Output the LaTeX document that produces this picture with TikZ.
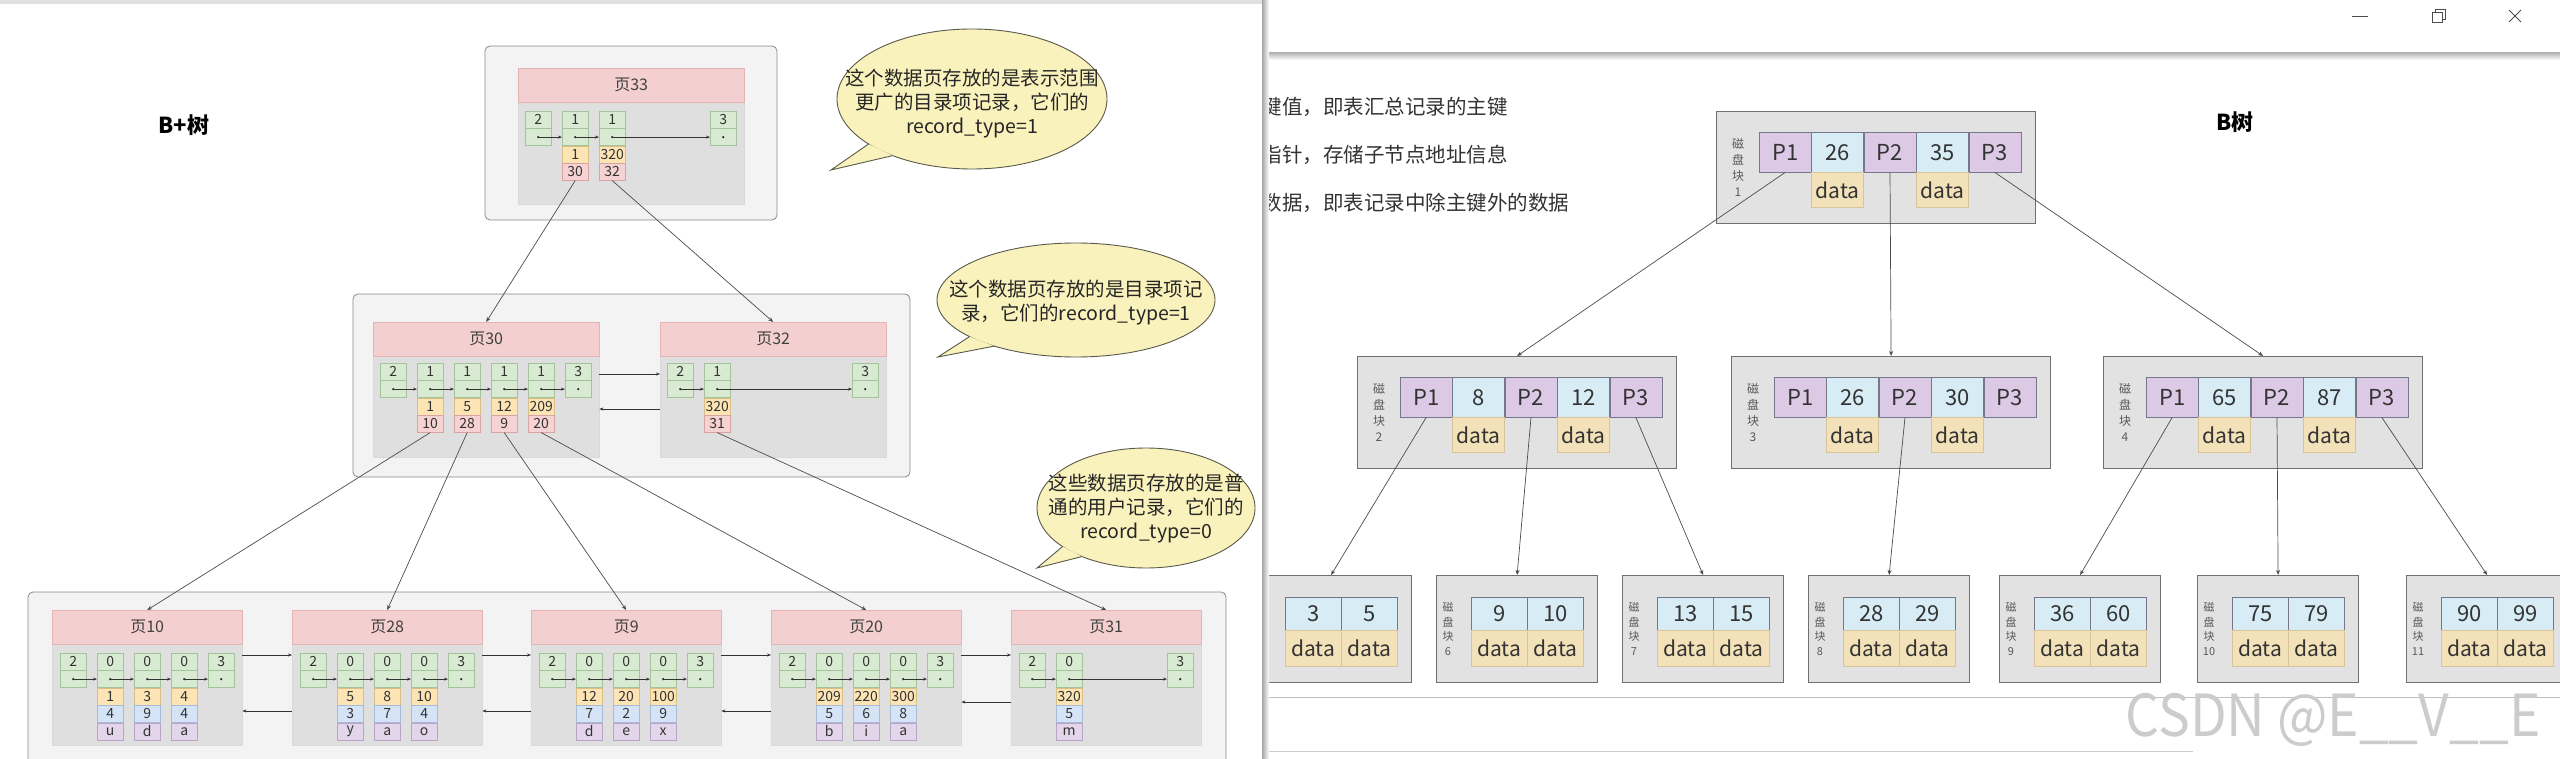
\documentclass[tikz,border=0pt]{standalone}
\usepackage{fontspec}
\setmainfont{Noto Sans CJK SC}
\usetikzlibrary{arrows.meta,calc}

\definecolor{grpfill}{HTML}{F3F3F3}
\definecolor{grpline}{HTML}{8A8A8A}
\definecolor{headfill}{HTML}{F4CFCF}
\definecolor{headline}{HTML}{E2B4B4}
\definecolor{bodyfill}{HTML}{DFDFDF}
\definecolor{grnfill}{HTML}{D9EAD3}
\definecolor{grnline}{HTML}{A3C49B}
\definecolor{keyfill}{HTML}{FCE4B4}
\definecolor{keyline}{HTML}{D9BE85}
\definecolor{numfill}{HTML}{F7D2D2}
\definecolor{numline}{HTML}{D7A3A3}
\definecolor{bluefill}{HTML}{D4E3F6}
\definecolor{blueline}{HTML}{A7BAD8}
\definecolor{purfill}{HTML}{E3D5EA}
\definecolor{purline}{HTML}{B9A3C6}
\definecolor{bubfill}{HTML}{FAF2BC}
\definecolor{bubline}{HTML}{5A5A4A}
\definecolor{blkfill}{HTML}{E2E2E2}
\definecolor{blkline}{HTML}{707070}
\definecolor{pfill}{HTML}{DCC9E6}
\definecolor{kfill}{HTML}{D7ECF4}
\definecolor{dfill}{HTML}{F3E2B9}
\definecolor{dline}{HTML}{D8C49A}
\definecolor{cellline}{HTML}{77778A}

% one record of a page: number cell and pointer cell
\newcommand{\recpair}[4]{%
  \node[grncell, anchor=north west] (#1-t) at (#2,#3) {#4};
  \node[grncell, anchor=north] (#1-p) at (#1-t.south) {};
  \fill[black!85] (#1-p.center) circle (1.2pt);
}

% speech bubble: cx, cy, rx, ry, tip x, tip y, name
\newcommand{\bubble}[7]{%
  \fill[bubfill, draw=bubline, line width=0.9pt] (#1,#2) ellipse [x radius=#3pt, y radius=#4pt];
  \coordinate (#7-a) at ($(#1,#2)+({#3*cos(140)},{#4*sin(140)})$);
  \coordinate (#7-b) at ($(#1,#2)+({#3*cos(126)},{#4*sin(126)})$);
  \coordinate (#7-tip) at (#5,#6);
  \fill[bubfill] (#7-a) -- (#7-tip) -- (#7-b) -- cycle;
  \draw[bubline, line width=0.9pt] (#7-a) -- (#7-tip) -- (#7-b);
}

% B-tree inner block: name, x, y, label, key 1, key 2
\newcommand{\diskblk}[6]{%
  \node[blk, minimum width=319pt, minimum height=112pt] (#1) at (#2,#3) {};
  \node[blklab] (#1-lab) at ($(#1.west)+(22,0)$) {磁\\盘\\块\\#4};
  \node[pcell, anchor=north west] (#1-p1) at ($(#1.north west)+(43,21)$) {P1};
  \node[kcell, anchor=west] (#1-k1) at (#1-p1.east) {#5};
  \node[pcell, anchor=west] (#1-p2) at (#1-k1.east) {P2};
  \node[kcell, anchor=west] (#1-k2) at (#1-p2.east) {#6};
  \node[pcell, anchor=west] (#1-p3) at (#1-k2.east) {P3};
  \node[dcell, anchor=north] (#1-d1) at (#1-k1.south) {data};
  \node[dcell, anchor=north] (#1-d2) at (#1-k2.south) {data};
}

% B-tree leaf block: name, x, label, key 1, key 2
\newcommand{\leafblk}[5]{%
  \node[blk, minimum width=161pt, minimum height=107pt] (#1) at (#2,575) {};
  \node[leaflab] (#1-lab) at ($(#1.west)+(12,0)$) {磁\\盘\\块\\#3};
  \node[lkcell, anchor=north west] (#1-k1) at ($(#1.north west)+(35,22)$) {#4};
  \node[lkcell, anchor=west] (#1-k2) at (#1-k1.east) {#5};
  \node[ldcell, anchor=north] (#1-d1) at (#1-k1.south) {data};
  \node[ldcell, anchor=north] (#1-d2) at (#1-k2.south) {data};
}

\begin{document}
\begin{tikzpicture}[x=1pt, y=-1pt,
  grp/.style={draw=grpline, fill=grpfill, rounded corners=5pt, line width=0.8pt},
  pgbody/.style={draw=black!15, fill=bodyfill, anchor=north west, inner sep=0pt},
  pghead/.style={draw=headline, fill=headfill, anchor=north west, inner sep=0pt,
    minimum height=34pt, text=black!75, font=\fontsize{16}{16}\selectfont},
  reccell/.style={minimum width=26pt, minimum height=17pt, inner sep=0pt,
    text=black!80, font=\fontsize{14}{14}\selectfont},
  grncell/.style={reccell, draw=grnline, fill=grnfill},
  keycell/.style={reccell, draw=keyline, fill=keyfill, anchor=north},
  numcell/.style={reccell, draw=numline, fill=numfill, anchor=north},
  bluecell/.style={reccell, draw=blueline, fill=bluefill, anchor=north},
  purcell/.style={reccell, draw=purline, fill=purfill, anchor=north},
  ptr/.style={-{Stealth[length=4pt, width=3pt]}, line width=0.6pt, black!80},
  tolink/.style={-{Stealth[length=5pt, width=4pt]}, line width=0.7pt, black!70},
  bubtext/.style={align=center, text=black!85, font=\fontsize{19.5}{24}\selectfont},
  blk/.style={draw=blkline, fill=blkfill, line width=1.2pt, anchor=north west, inner sep=0pt},
  blklab/.style={align=center, text=black!65, font=\fontsize{12}{16}\selectfont},
  leaflab/.style={blklab, font=\fontsize{11}{14.5}\selectfont},
  pcell/.style={draw=cellline, fill=pfill, minimum width=52pt, minimum height=40pt,
    inner sep=0pt, text=black!80, font=\fontsize{22}{22}\selectfont},
  kcell/.style={pcell, fill=kfill},
  dcell/.style={pcell, fill=dfill, draw=dline, minimum height=35pt, font=\fontsize{21}{21}\selectfont},
  lkcell/.style={pcell, fill=kfill, minimum width=56pt, minimum height=33pt},
  ldcell/.style={pcell, fill=dfill, draw=dline, minimum width=56pt, minimum height=36pt,
    font=\fontsize{21}{21}\selectfont},
  rtxt/.style={anchor=west, text=black!80, font=\fontsize{20.5}{20.5}\selectfont},
  title/.style={font=\bfseries\fontsize{22}{22}\selectfont}]
\useasboundingbox (0,0) rectangle (2560,759);
\clip (0,0) rectangle (2560,759);
\fill[white] (0,0) rectangle (2560,759);
\fill[black!12] (0,0) rectangle (1265,4);

% B+ tree, left window
\node[title] (bplus) at (184,125) {B+树};
\draw[grp] (485,46) rectangle (777,220);
\draw[grp] (353,294) rectangle (910,477);
\draw[grp] (28,592) rectangle (1226,800);

\node[pgbody, minimum width=226pt, minimum height=136pt] (p33) at (518,68) {};
\node[pghead, minimum width=226pt] (p33-h) at (518,68) {页33};
\node[pgbody, minimum width=226pt, minimum height=135pt] (p30) at (373,322) {};
\node[pghead, minimum width=226pt] (p30-h) at (373,322) {页30};
\node[pgbody, minimum width=226pt, minimum height=135pt] (p32) at (660,322) {};
\node[pghead, minimum width=226pt] (p32-h) at (660,322) {页32};

\foreach \pn/\px/\py in {p33/518/111, p30/373/363, p32/660/363}{
  \recpair{\pn-0}{\px+7}{\py}{2}
  \recpair{\pn-5}{\px+7+185}{\py}{3}
}
\foreach \pn/\px/\py/\s/\ka/\kb in {p33/518/111/1/1/30, p33/518/111/2/320/32,
    p30/373/363/1/1/10, p30/373/363/2/5/28, p30/373/363/3/12/9, p30/373/363/4/209/20,
    p32/660/363/1/320/31}{
  \recpair{\pn-\s}{\px+7+37*\s}{\py}{1}
  \node[keycell] (\pn-\s-k) at (\pn-\s-p.south) {\ka};
  \node[numcell] (\pn-\s-n) at (\pn-\s-k.south) {\kb};
}
\foreach \pn/\a/\b in {p33/0/1, p33/1/2, p33/2/5, p30/0/1, p30/1/2, p30/2/3, p30/3/4,
    p30/4/5, p32/0/1, p32/1/5}
  \draw[ptr] (\pn-\a-p.center) -- (\pn-\b-p.west);

\foreach \pn/\px/\ttl in {p10/52/页10, p28/292/页28, p9/531/页9, p20/771/页20, p31/1011/页31}{
  \node[pgbody, minimum width=190pt, minimum height=135pt] (\pn) at (\px,610) {};
  \node[pghead, minimum width=190pt] (\pn-h) at (\px,610) {\ttl};
  \recpair{\pn-0}{\px+8}{653}{2}
  \recpair{\pn-4}{\px+8+148}{653}{3}
}
\foreach \pn/\px/\s/\ka/\kb/\kc in {p10/52/1/1/4/u, p10/52/2/3/9/d, p10/52/3/4/4/a,
    p28/292/1/5/3/y, p28/292/2/8/7/a, p28/292/3/10/4/o,
    p9/531/1/12/7/d, p9/531/2/20/2/e, p9/531/3/100/9/x,
    p20/771/1/209/5/b, p20/771/2/220/6/i, p20/771/3/300/8/a, p31/1011/1/320/5/m}{
  \recpair{\pn-\s}{\px+8+37*\s}{653}{0}
  \node[keycell] (\pn-\s-k) at (\pn-\s-p.south) {\ka};
  \node[bluecell] (\pn-\s-b) at (\pn-\s-k.south) {\kb};
  \node[purcell] (\pn-\s-c) at (\pn-\s-b.south) {\kc};
}
\foreach \pn in {p10, p28, p9, p20}
  \foreach \a/\b in {0/1, 1/2, 2/3, 3/4}
    \draw[ptr] (\pn-\a-p.center) -- (\pn-\b-p.west);
\draw[ptr] (p31-0-p.center) -- (p31-1-p.west);
\draw[ptr] (p31-1-p.center) -- (p31-4-p.west);

% sibling pages
\draw[ptr] ([yshift=-52pt]p30.north east) -- ([yshift=-52pt]p32.north west);
\draw[ptr] ([yshift=-87pt]p32.north west) -- ([yshift=-87pt]p30.north east);
\foreach \a/\b/\d in {p10/p28/101pt, p28/p9/101pt, p9/p20/101pt, p20/p31/92pt}{
  \draw[ptr] ([yshift=-45pt]\a.north east) -- ([yshift=-45pt]\b.north west);
  \draw[ptr] ([yshift=-\d]\b.north west) -- ([yshift=-\d]\a.north east);
}

% parent to child
\draw[tolink] (p33-1-n.south) -- (p30.north);
\draw[tolink] (p33-2-n.south) -- (p32.north);
\foreach \s/\pg in {1/p10, 2/p28, 3/p9, 4/p20}
  \draw[tolink] (p30-\s-n.south) -- (\pg.north);
\draw[tolink] (p32-1-n.south) -- (p31.north);

\bubble{972}{99}{135}{70}{831}{170}{bub1}
\node[bubtext] (bub1-txt) at (972,104) {这个数据页存放的是表示范围\\更广的目录项记录，它们的\\record\_type=1};
\bubble{1076}{300}{139}{57}{938}{357}{bub2}
\node[bubtext] (bub2-txt) at (1076,303) {这个数据页存放的是目录项记\\录，它们的record\_type=1};
\bubble{1146}{508}{109}{60}{1037}{568}{bub3}
\node[bubtext] (bub3-txt) at (1146,509) {这些数据页存放的是普\\通的用户记录，它们的\\record\_type=0};

% B tree, right window
\begin{scope}
\clip (1265,0) rectangle (2560,759);
\fill[white] (1265,0) rectangle (2560,759);
\shade[top color=black!28, bottom color=white] (1265,53) rectangle (2560,60);
\draw[black!70, line width=0.8pt] (2352,16) -- (2368,16);
\draw[black!70, line width=0.8pt] (2432,12) rectangle (2442,22);
\draw[black!70, line width=0.8pt] (2435,12) -- (2435,9) -- (2445,9) -- (2445,19) -- (2442,19);
\draw[black!70, line width=0.8pt] (2509,10) -- (2521,22);
\draw[black!70, line width=0.8pt] (2509,22) -- (2521,10);

\node[rtxt] (txt1) at (1258,107) {键值，即表汇总记录的主键};
\node[rtxt] (txt2) at (1258,155) {指针，存储子节点地址信息};
\node[rtxt] (txt3) at (1258,203) {数据，即表记录中除主键外的数据};
\node[title] (btitle) at (2235,122) {B树};

\diskblk{b1}{1716}{111}{1}{26}{35}
\diskblk{b2}{1357}{356}{2}{8}{12}
\diskblk{b3}{1731}{356}{3}{26}{30}
\diskblk{b4}{2103}{356}{4}{65}{87}
\leafblk{l5}{1250}{5}{3}{5}
\leafblk{l6}{1436}{6}{9}{10}
\leafblk{l7}{1622}{7}{13}{15}
\leafblk{l8}{1808}{8}{28}{29}
\leafblk{l9}{1999}{9}{36}{60}
\leafblk{l10}{2197}{10}{75}{79}
\leafblk{l11}{2406}{11}{90}{99}

\draw[tolink] (b1-p1.south) -- (b2.north);
\draw[tolink] (b1-p2.south) -- (b3.north);
\draw[tolink] (b1-p3.south) -- (b4.north);
\draw[tolink] (b2-p1.south) -- (l5.north);
\draw[tolink] (b2-p2.south) -- (l6.north);
\draw[tolink] (b2-p3.south) -- (l7.north);
\draw[tolink] (b3-p2.south) -- (l8.north);
\draw[tolink] (b4-p1.south) -- (l9.north);
\draw[tolink] (b4-p2.south) -- (l10.north);
\draw[tolink] (b4-p3.south) -- (l11.north);

\draw[black!25, line width=1pt] (1265,697) -- (2560,697);
\draw[black!20, line width=1pt] (1265,751) -- (2193,751);
\end{scope}
\shade[left color=black!35, right color=white] (1262,0) rectangle (1269,759);

\node[anchor=west, text=black!20, font=\fontsize{58}{58}\selectfont] (mark) at (2122,720)
  {\scalebox{0.92}[1]{CSDN @E\_\_V\_\_E}};
\end{tikzpicture}
\end{document}
